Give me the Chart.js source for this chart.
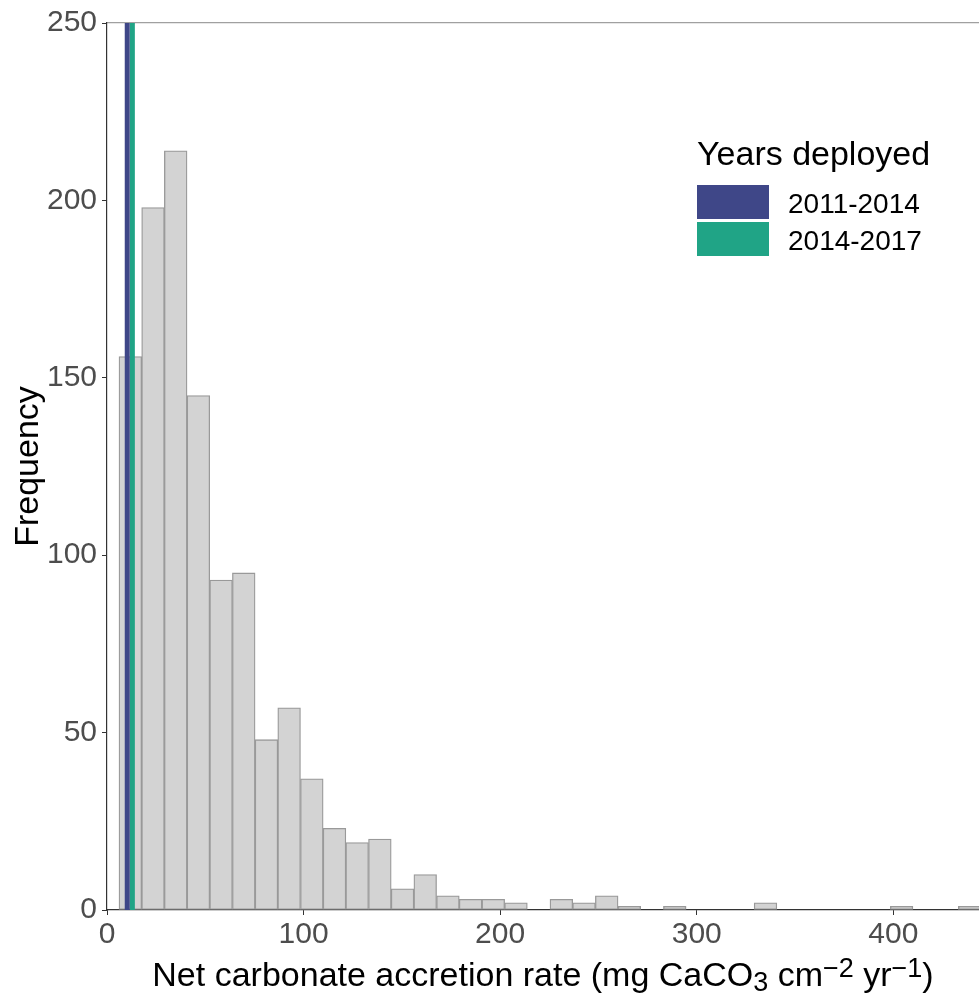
<!DOCTYPE html>
<html>
<head>
<meta charset="utf-8">
<title>Net carbonate accretion rate histogram</title>
<script src="https://cdn.jsdelivr.net/npm/chart.js@4/dist/chart.umd.min.js"></script>
<style>
    body { margin: 0; background: #ffffff; }
    #wrap { width: 979px; height: 999px; position: relative; }
</style>
</head>
<body>
<div id="wrap"><canvas id="hist-chart"></canvas></div>
<script>
// ============================================
// DATA
// ============================================
// histogram bin mid-points (mg CaCO3 cm-2 yr-1)
const binMids = [
    11.87, 23.41, 34.95, 46.49, 58.03, 69.57, 81.11, 92.65, 104.19, 115.73,
    127.27, 138.81, 150.35, 161.89, 173.43, 184.97, 196.51, 208.05, 219.59, 231.13,
    242.67, 254.21, 265.75, 277.29, 288.83, 300.37, 311.91, 323.45, 334.99, 346.53,
    358.07, 369.61, 381.15, 392.69, 404.23, 415.77, 427.31, 438.85
];
// frequency per bin
const binCounts = [
    156, 198, 214, 145, 93, 95, 48, 57, 37, 23,
    19, 20, 6, 10, 4, 3, 3, 2, 0, 3,
    2, 4, 1, 0, 1, 0, 0, 0, 2, 0,
    0, 0, 0, 0, 1, 0, 0, 1
];
// mean rate per deployment period (vertical lines)
const periods = ['2011-2014', '2014-2017'];
const periodMeans = [10.3, 12.9];
const periodColors = ['#3F4788', '#20A486'];

const xTicks = [0, 100, 200, 300, 400];
const yTicks = [0, 50, 100, 150, 200, 250];
const X_MAX = 443.6;
const Y_MAX = 250;

const TICK_COLOR = '#4D4D4D';
const AXIS_COLOR = '#333333';
const FONT = '"Liberation Sans", Arial, sans-serif';

// ============================================
// CUSTOM DRAWING (axis titles + legend)
// ============================================
function drawRichText(ctx, parts, cx, baseline) {
    let total = 0;
    parts.forEach(p => {
        ctx.font = `${p.size}px ${FONT}`;
        p.w = ctx.measureText(p.text).width;
        total += p.w;
    });
    let x = cx - total / 2;
    ctx.textAlign = 'left';
    ctx.textBaseline = 'alphabetic';
    parts.forEach(p => {
        ctx.font = `${p.size}px ${FONT}`;
        ctx.fillText(p.text, x, baseline + p.dy);
        x += p.w;
    });
}

const annotationsPlugin = {
    id: 'annotations',
    afterDraw(chart) {
        const ctx = chart.ctx;
        const area = chart.chartArea;
        ctx.save();
        ctx.fillStyle = '#000000';

        // x axis title with sub/superscripts
        drawRichText(ctx, [
            { text: 'Net carbonate accretion rate (mg CaCO', size: 34, dy: 0 },
            { text: '3', size: 27, dy: 5 },
            { text: ' cm', size: 34, dy: 0 },
            { text: '\u22122', size: 27, dy: -9 },
            { text: ' yr', size: 34, dy: 0 },
            { text: '\u22121', size: 27, dy: -9 },
            { text: ')', size: 34, dy: 0 }
        ], (area.left + area.right) / 2, 986);

        // y axis title
        ctx.save();
        ctx.translate(38, (area.top + area.bottom) / 2);
        ctx.rotate(-Math.PI / 2);
        ctx.font = `34px ${FONT}`;
        ctx.textAlign = 'center';
        ctx.textBaseline = 'alphabetic';
        ctx.fillText('Frequency', 0, 0);
        ctx.restore();

        // legend
        ctx.font = `34px ${FONT}`;
        ctx.textAlign = 'left';
        ctx.textBaseline = 'alphabetic';
        ctx.fillText('Years deployed', 697, 165);

        const keyTops = [185, 222];
        periods.forEach((label, i) => {
            ctx.fillStyle = periodColors[i];
            ctx.fillRect(697, keyTops[i], 72, 34);
            ctx.fillStyle = '#000000';
            ctx.font = `28px ${FONT}`;
            ctx.fillText(label, 788, keyTops[i] + 28);
        });
        ctx.restore();
    }
};

// ============================================
// CHART
// ============================================
const histData = binMids.map((m, i) => ({ x: m, y: binCounts[i] }));

const lineSets = periods.map((label, i) => ({
    type: 'line',
    label: label,
    data: [{ x: periodMeans[i], y: 0 }, { x: periodMeans[i], y: Y_MAX }],
    borderColor: periodColors[i],
    borderWidth: 5,
    pointRadius: 0,
    clip: 0,
    order: 1
}));

new Chart(document.getElementById('hist-chart'), {
    type: 'bar',
    data: {
        datasets: [{
            type: 'bar',
            label: 'Frequency',
            data: histData,
            backgroundColor: '#D3D3D3',
            borderColor: '#999999',
            borderWidth: 1.3,
            borderSkipped: false,
            barPercentage: 1,
            categoryPercentage: 1,
            grouped: false,
            order: 2
        }, ...lineSets]
    },
    options: {
        responsive: true,
        maintainAspectRatio: false,
        animation: false,
        layout: { padding: { top: 19, left: 0, right: 0, bottom: 0 } },
        plugins: {
            legend: { display: false },
            tooltip: { enabled: false }
        },
        scales: {
            x: {
                type: 'linear',
                position: 'bottom',
                min: 0,
                max: X_MAX,
                offset: false,
                afterBuildTicks: (scale) => { scale.ticks = xTicks.map(v => ({ value: v })); },
                afterFit: (scale) => { scale.height = 89; },
                ticks: {
                    color: TICK_COLOR,
                    font: { family: FONT, size: 30 },
                    padding: 2,
                    maxRotation: 0
                },
                grid: { display: true, offset: false, drawOnChartArea: false, drawTicks: true, tickLength: 5, color: AXIS_COLOR },
                border: { display: true, color: AXIS_COLOR, width: 1.2 }
            },
            xTop: {
                type: 'linear',
                position: 'top',
                min: 0,
                max: X_MAX,
                offset: false,
                afterFit: (scale) => { scale.height = 0; },
                ticks: { display: false },
                grid: { display: false, offset: false },
                border: { display: true, color: '#A0A0A0', width: 1.2 }
            },
            y: {
                type: 'linear',
                min: 0,
                max: Y_MAX,
                afterBuildTicks: (scale) => { scale.ticks = yTicks.map(v => ({ value: v })); },
                afterFit: (scale) => { scale.width = 107; },
                ticks: {
                    color: TICK_COLOR,
                    font: { family: FONT, size: 30 },
                    padding: 5
                },
                grid: { display: true, drawOnChartArea: false, drawTicks: true, tickLength: 5, color: AXIS_COLOR },
                border: { display: true, color: AXIS_COLOR, width: 1.2 }
            }
        }
    },
    plugins: [annotationsPlugin]
});
</script>
</body>
</html>
